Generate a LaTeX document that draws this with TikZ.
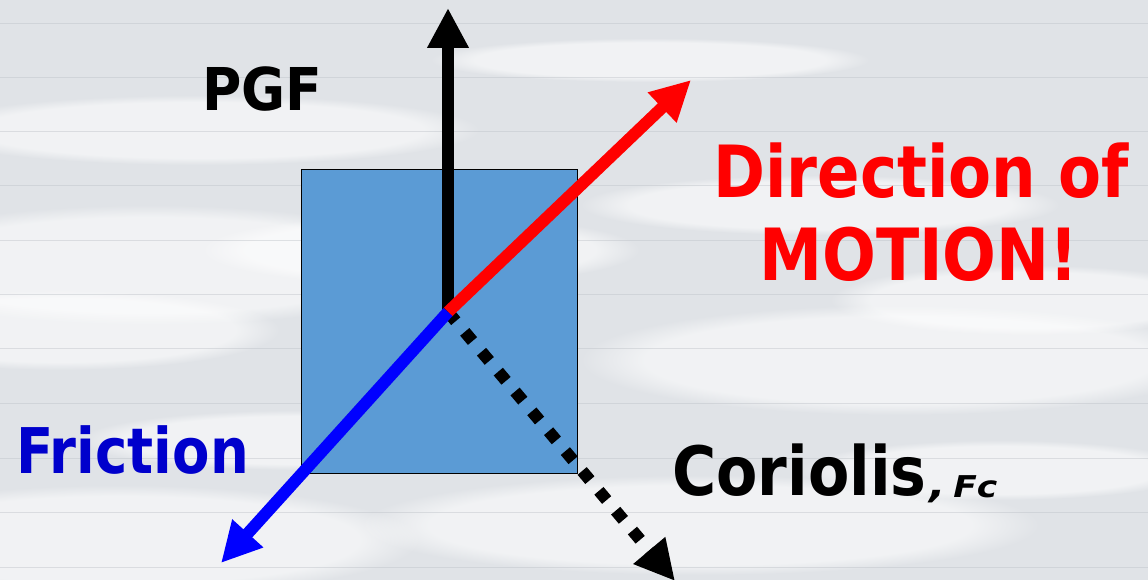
\documentclass[tikz,border=0pt]{standalone}
\usepackage{fontspec}
\setmainfont{DejaVu Sans}
\usepackage{graphicx}
\usetikzlibrary{arrows.meta,fadings}
\definecolor{boxblue}{RGB}{91,155,213}
\definecolor{sky}{RGB}{224,227,231}
\definecolor{skyline}{RGB}{190,194,200}
\definecolor{fricblue}{RGB}{0,0,204}
\newcommand\narrow[2][0.87]{\scalebox{#1}[1]{#2}}
\begin{document}
\begin{tikzpicture}[x=1pt,y=-1pt,
  lbl/.style={inner sep=0pt,anchor=base west,font=\bfseries},
  force/.style={line width=12pt,-{Triangle[length=40pt,width=39pt]}},
  cloud/.style={fill=white,opacity=0.55,path fading=circle with fuzzy edge 20 percent}]
\useasboundingbox (0,0) rectangle (1148,580);
\clip (0,0) rectangle (1148,580);
% background sky
\fill[sky] (0,0) rectangle (1148,580);
\foreach \cx/\cy/\rx/\ry in {150/265/300/60, 60/330/220/40, 420/250/220/35, 120/540/300/55, 900/360/320/55, 1030/300/200/35, 700/525/340/50, 300/440/220/30, 820/205/240/30, 200/130/280/35, 650/60/220/22, 1000/470/200/30}{
  \fill[cloud] (\cx,\cy) ellipse [x radius=\rx pt, y radius=\ry pt];
}
\foreach \yy in {23,77,131,185,240,294,348,403,458,512,567}{
  \draw[skyline,line width=0.7pt,opacity=0.45] (0,\yy) -- (1148,\yy);
}
% block
\node[draw=black,line width=1.3pt,fill=boxblue,minimum width=276pt,minimum height=304pt,inner sep=0pt,anchor=north west] (block) at (301,169) {};
% force arrows
\coordinate (c) at (448,312);
\coordinate (pgftip) at (448,8);
\coordinate (motiontip) at (691,80);
\coordinate (frictip) at (221,563);
\coordinate (cortip) at (675,581);
\draw[force,black,line cap=butt,dash pattern=on 12pt off 14pt] (c) -- (cortip);
\draw[force,black] (c) -- (pgftip);
\draw[force,red] (c) -- (motiontip);
\draw[force,blue] (c) -- (frictip);
% labels
\node[lbl,font=\fontsize{59}{60}\selectfont\bfseries] (pgf) at (202,111) {\narrow[0.91]{PGF}};
\node[lbl,red,anchor=base,font=\fontsize{72}{74}\selectfont\bfseries] (dir) at (921,197) {\narrow{Direction of}};
\node[lbl,red,anchor=base,font=\fontsize{72}{74}\selectfont\bfseries] (mot) at (919,280) {\narrow[0.88]{MOTION!}};
\node[lbl,fricblue,font=\fontsize{63}{64}\selectfont\bfseries] (fric) at (16,473) {\narrow[0.865]{Friction}};
\node[lbl,font=\fontsize{68}{70}\selectfont\bfseries] (cor) at (672,495) {\narrow[0.885]{Coriolis}};
\node[lbl,font=\fontsize{30}{32}\selectfont\bfseries\itshape] (fc) at ([xshift=3pt,yshift=-2pt]cor.base east) {\scalebox{1.15}[1]{{\fontsize{38}{38}\selectfont,}\hspace{6pt}Fc}};
\end{tikzpicture}
\end{document}
